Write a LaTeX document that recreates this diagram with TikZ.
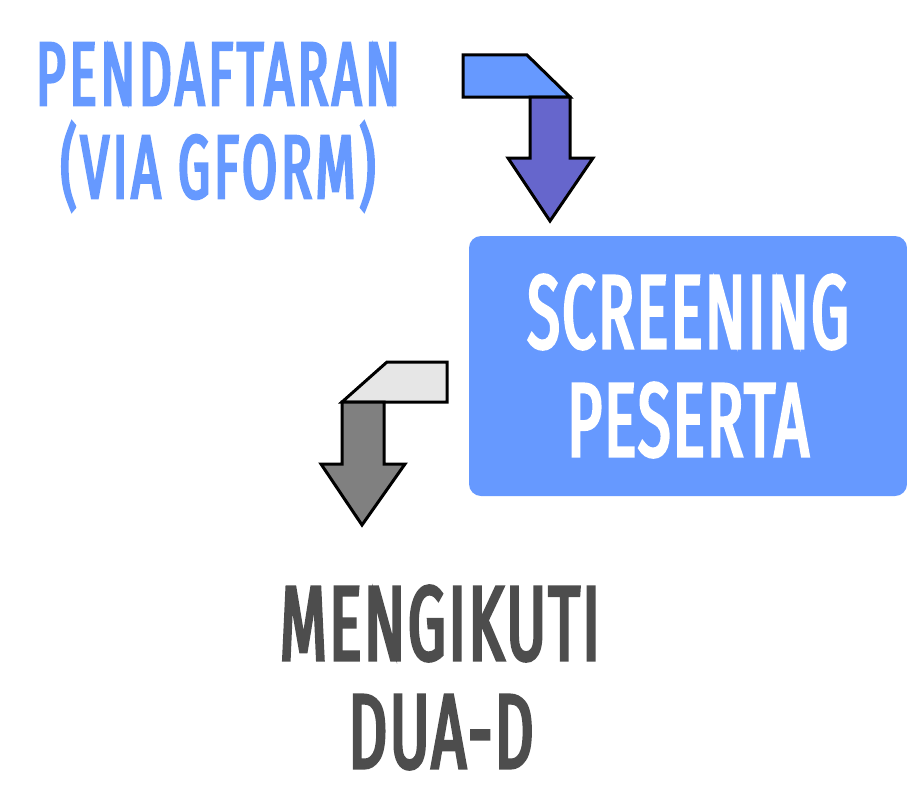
\documentclass[tikz,border=0pt]{standalone}
\usepackage{fontspec}
\newfontfamily\disp[FakeStretch=0.57,FakeBold=3,LetterSpace=4]{Fira Sans}
\newfontfamily\dispbig[FakeStretch=0.57,FakeBold=3,LetterSpace=2.3]{Fira Sans}
\definecolor{lblue}{HTML}{6699FF}
\definecolor{pblue}{HTML}{6666CC}
\definecolor{lgray}{HTML}{E6E6E6}
\definecolor{mgray}{HTML}{808080}
\definecolor{dgray}{HTML}{4D4D4D}
\tikzset{
  shapeline/.style={draw=black, line width=3pt, line join=miter},
  bluetxt/.style={anchor=base, inner sep=0pt, text=lblue, font=\disp\fontsize{90}{90}\selectfont},
  whitetxt/.style={anchor=base, inner sep=0pt, text=white, font=\dispbig\fontsize{104.5}{104.5}\selectfont},
  graytxt/.style={anchor=base, inner sep=0pt, text=dgray, font=\dispbig\fontsize{106}{106}\selectfont},
}
\begin{document}
\begin{tikzpicture}[x=1pt,y=-1pt]
\useasboundingbox (0,0) rectangle (907,808);
\node[fill=lblue, rounded corners=12pt, minimum width=438pt, minimum height=260pt, inner sep=0pt] (box) at (688,366) {};
\node[bluetxt] (t1a) at (218,105) {PENDAFTARAN};
\node[bluetxt] (t1b) at (218,198) {(VIA GFORM)};
\node[whitetxt] (t2a) at (688,348) {SCREENING};
\node[whitetxt] (t2b) at (688,456) {PESERTA};
\node[graytxt] (t3a) at (440,660) {MENGIKUTI};
\node[graytxt] (t3b) at (441,768) {DUA-D};
% arrow 1
\draw[shapeline, fill=lblue] (463,55) -- (527,55) -- (570,97) -- (463,97) -- cycle;
\draw[shapeline, fill=pblue] (530,97) -- (570,97) -- (570,158) -- (593,158) -- (550,221) -- (508,158) -- (530,158) -- cycle;
% arrow 2
\draw[shapeline, fill=lgray] (387,362) -- (447,362) -- (447,402) -- (342,402) -- cycle;
\draw[shapeline, fill=mgray] (342,402) -- (384,402) -- (384,464) -- (405,464) -- (362,525) -- (321,464) -- (342,464) -- cycle;
\end{tikzpicture}
\end{document}
